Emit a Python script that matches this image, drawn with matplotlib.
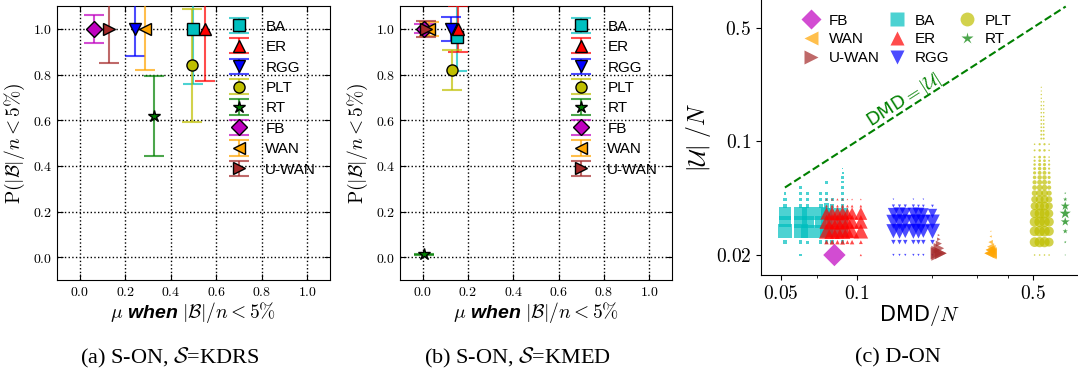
import matplotlib
matplotlib.use("Agg")
import matplotlib.pyplot as plt
from matplotlib.lines import Line2D
from matplotlib.ticker import FixedLocator, FixedFormatter, FuncFormatter, NullFormatter

plt.rcParams['mathtext.fontset'] = 'cm'
plt.rcParams['font.family'] = ['Liberation Sans', 'DejaVu Sans']

# ---- data for the S-ON panels (a) and (b) ----
names = ['BA', 'ER', 'RGG', 'PLT', 'RT', 'FB', 'WAN', 'U-WAN']
colors = ['c', 'r', 'b', 'y', 'g', 'm', 'orange', 'brown']
markers = ['s', '^', 'v', 'o', '*', 'D', '<', '>']

kdrs_mu = [0.497, 0.550, 0.243, 0.495, 0.326, 0.063, 0.289, 0.129]
kdrs_p = [1.0, 1.0, 1.0, 0.84, 0.62, 1.0, 1.0, 1.0]
kdrs_err = [0.243, 0.23, 0.12, 0.248, 0.175, 0.06, 0.18, 0.148]

kmed_mu = [0.151, 0.158, 0.126, 0.129, 0.007, 0.005, 0.03, 0.015]
kmed_p = [0.966, 1.0, 1.0, 0.82, 0.012, 1.0, 1.0, 1.0]
kmed_err = [0.15, 0.10, 0.053, 0.088, 0.003, 0.02, 0.03, 0.035]

# ---- data for the D-ON panel (c): x columns, y rows, marker size table ----
ba_x = [0.052, 0.060, 0.064, 0.072, 0.076, 0.080, 0.088]
ba_y = [0.020, 0.024, 0.028, 0.032, 0.036, 0.040, 0.044, 0.048, 0.052, 0.056, 0.060, 0.064, 0.068]
ba_s = [[0, 3, 0, 0, 0, 0, 0],
        [5, 5, 4, 5, 6, 5, 5],
        [80, 80, 70, 70, 60, 45, 45],
        [50, 60, 55, 55, 55, 50, 50],
        [65, 65, 60, 60, 50, 45, 45],
        [6, 5, 5, 6, 14, 8, 6],
        [4, 4, 4, 4, 5, 4, 4],
        [3, 3, 3, 3, 3, 0, 3],
        [0, 3, 0, 0, 0, 0, 2],
        [0, 0, 0, 0, 3, 0, 2],
        [0, 0, 0, 0, 0, 0, 2],
        [0, 0, 0, 0, 0, 0, 1.5],
        [0, 0, 0, 0, 0, 0, 1]]

er_x = [0.076, 0.080, 0.084, 0.088, 0.092, 0.096, 0.104]
er_y = [0.020, 0.024, 0.028, 0.032, 0.036, 0.040, 0.044]
er_s = [[0, 0, 0, 0, 0, 0, 2],
        [8, 10, 8, 10, 6, 8, 6],
        [90, 95, 85, 95, 70, 80, 85],
        [80, 95, 85, 95, 70, 80, 75],
        [60, 75, 65, 75, 50, 60, 65],
        [3, 4, 3, 4, 3, 3, 3],
        [2, 2, 2, 2, 1, 1, 1]]

rgg_x = [0.140, 0.148, 0.156, 0.168, 0.176, 0.184, 0.200]
rgg_y = [0.020, 0.024, 0.028, 0.032, 0.036, 0.040, 0.044]
rgg_s = [[2, 2, 2, 2, 2, 2, 2],
         [8, 8, 8, 8, 8, 8, 8],
         [80, 90, 75, 90, 85, 70, 90],
         [80, 90, 75, 85, 85, 75, 85],
         [50, 60, 50, 55, 55, 45, 35],
         [4, 4, 4, 4, 3, 3, 3],
         [1, 0, 0, 1, 0, 1, 0]]

plt_x = [0.508, 0.532, 0.556, 0.580]
plt_y = [0.020, 0.024, 0.028, 0.032, 0.036, 0.040, 0.044, 0.048, 0.052,
         0.056, 0.060, 0.064, 0.068, 0.072, 0.076, 0.080, 0.088, 0.096]
plt_s = [[1, 1, 1, 1],
         [38, 42, 42, 32],
         [38, 45, 45, 35],
         [38, 45, 45, 35],
         [32, 40, 40, 28],
         [25, 32, 32, 22],
         [18, 25, 25, 16],
         [13, 18, 18, 11],
         [9, 13, 13, 7],
         [7, 10, 10, 5],
         [5, 8, 8, 4],
         [4, 6, 6, 3],
         [3, 5, 5, 2],
         [2.5, 4, 4, 2],
         [2, 3, 3, 1.5],
         [1.5, 3, 2.5, 1],
         [1.5, 2.5, 2.5, 1],
         [1, 2, 2, 1]]
plt_top_x = [0.540, 0.552]
plt_top_y = [0.104, 0.110, 0.116, 0.122, 0.128, 0.135, 0.142, 0.150,
             0.158, 0.166, 0.175, 0.184, 0.194, 0.204, 0.215]
plt_top_s = [[1.5, 1.5], [1.5, 1.5], [1.5, 1.2], [1.2, 1.2], [1.2, 1.2],
             [1.2, 1], [1, 1], [1, 1], [1, 0.8], [1, 0.8], [0.8, 0.8],
             [0.8, 0], [0.8, 0], [0.6, 0], [0.6, 0]]

rt_x = [0.672]
rt_y = [0.020, 0.024, 0.028, 0.032, 0.036, 0.040, 0.044, 0.048]
rt_s = [[1], [3], [12], [35], [55], [35], [8], [2]]

fb_x = [0.0817]
fb_y = [0.020]
fb_s = [[100]]

wan_x = [0.336, 0.340, 0.344]
wan_y = [0.0205, 0.0215, 0.0225, 0.024, 0.026, 0.028]
wan_s = [[40, 60, 40], [20, 40, 15], [0, 20, 0], [0, 8, 0], [0, 2, 0], [0, 0.8, 0]]

uwan_x = [0.208, 0.212, 0.216]
uwan_y = [0.0205, 0.022, 0.0235, 0.025, 0.0265]
uwan_s = [[60, 90, 55], [0, 45, 0], [0, 15, 0], [0, 5, 0], [0, 2, 0]]

line_x = [0.052, 0.675]
line_y = [0.052, 0.675]

W, H = 1078, 374
size_scale = 1.3
fig = plt.figure(figsize=(W / 100, H / 100), dpi=100)


def son_panel(rect, mu, p, err, caption, cap_x):
    ax = fig.add_axes(rect)
    for i, name in enumerate(names):
        ecol = matplotlib.colors.to_rgba(colors[i], 0.7)
        ax.errorbar([mu[i]], [p[i]], yerr=[err[i]], fmt=markers[i], color=colors[i],
                    mec='k', ms=8 if markers[i] != '*' else 9, capsize=7, capthick=1.5,
                    elinewidth=1.5, ecolor=ecol, label=name, zorder=3)
    ax.set_xlim(-0.1, 1.1)
    ax.set_ylim(-0.1, 1.1)
    ticks = [0.0, 0.2, 0.4, 0.6, 0.8, 1.0]
    ax.set_xticks(ticks)
    ax.set_yticks(ticks)
    fmt = FuncFormatter(lambda v, pos: r'$%.1f$' % v)
    ax.xaxis.set_major_formatter(fmt)
    ax.yaxis.set_major_formatter(fmt)
    ax.tick_params(direction='in', top=True, right=True, labelsize=10, length=4)
    ax.grid(True, color='k', linestyle=':', linewidth=1)
    ax.set_axisbelow(True)
    ax.set_ylabel(r'$\mathrm{P}(|\mathcal{B}|/n<5\%)$', fontsize=14, labelpad=4)
    ax.set_xlabel(r'$\mu$ when $|\mathcal{B}|/n<5\%$', fontsize=14,
                  fontstyle='italic', fontweight='bold', labelpad=1)
    ax.legend(loc='upper right', bbox_to_anchor=(1.0, 1.0), frameon=False,
              numpoints=1, fontsize=11, labelspacing=0.42, handlelength=1.6,
              handletextpad=0.9)
    fig.text(cap_x / W, 1 - 358 / H, caption, ha='center', va='center',
             fontsize=16, family='Liberation Serif')
    return ax


son_panel([57 / W, 94 / H, 273 / W, 274 / H], kdrs_mu, kdrs_p, kdrs_err,
          r'(a) S-ON, $\mathcal{S}$=KDRS', 170)
son_panel([400 / W, 94 / H, 272 / W, 274 / H], kmed_mu, kmed_p, kmed_err,
          r'(b) S-ON, $\mathcal{S}$=KMED', 518)

# ---- panel (c) ----
axc = fig.add_axes([761 / W, 99 / H, 317 / W, 275 / H])
axc.set_xscale('log')
axc.set_yscale('log')


def table_points(xs, ys, sizes):
    px, py, ps = [], [], []
    for yv, row in zip(ys, sizes):
        for xv, s in zip(xs, row):
            if s > 0:
                px.append(xv)
                py.append(yv)
                ps.append(s * size_scale)
    return px, py, ps


don = [
    ('BA', ba_x, ba_y, ba_s, 's', 'c'),
    ('ER', er_x, er_y, er_s, '^', 'r'),
    ('RGG', rgg_x, rgg_y, rgg_s, 'v', 'b'),
    ('PLT', plt_x, plt_y, plt_s, 'o', 'y'),
    ('PLT', plt_top_x, plt_top_y, plt_top_s, 'o', 'y'),
    ('RT', rt_x, rt_y, rt_s, '*', 'g'),
    ('FB', fb_x, fb_y, fb_s, 'D', 'm'),
    ('WAN', wan_x, wan_y, wan_s, '<', 'orange'),
    ('U-WAN', uwan_x, uwan_y, uwan_s, '>', 'brown'),
]
for name, xs, ys, ss, mk, col in don:
    px, py, ps = table_points(xs, ys, ss)
    axc.scatter(px, py, s=ps, marker=mk, c=col, alpha=0.7, edgecolors='none')

axc.plot(line_x, line_y, '--', color='green', lw=1.5)
axc.text(0.154, 0.179, r'DMD$=|\mathcal{U}|$', color='green', fontsize=13,
         family='DejaVu Sans', rotation=32.5, ha='center', va='center',
         rotation_mode='anchor')

axc.set_xlim(0.0418, 0.755)
axc.set_ylim(0.01507, 0.74)
axc.xaxis.set_major_locator(FixedLocator([0.05, 0.1, 0.5]))
axc.xaxis.set_major_formatter(FixedFormatter([r'$0.05$', r'$0.1$', r'$0.5$']))
axc.xaxis.set_minor_locator(FixedLocator([0.07, 0.2, 0.3, 0.4]))
axc.xaxis.set_minor_formatter(NullFormatter())
axc.yaxis.set_major_locator(FixedLocator([0.02, 0.1, 0.5]))
axc.yaxis.set_major_formatter(FixedFormatter([r'$0.02$', r'$0.1$', r'$0.5$']))
axc.yaxis.set_minor_locator(FixedLocator([]))
axc.tick_params(labelsize=14)
axc.spines['top'].set_visible(False)
axc.spines['right'].set_visible(False)
axc.set_xlabel(r'DMD$/N$', fontsize=15, family='DejaVu Sans', labelpad=0)
axc.set_ylabel(r'$|\mathcal{U}|\ /N$', fontsize=17, labelpad=2)

handles = [Line2D([], [], ls='none', marker=mk, color=col, alpha=0.7, mec='none', ms=ms)
           for mk, col, ms in [('D', 'm', 10), ('<', 'orange', 10), ('>', 'brown', 10),
                               ('s', 'c', 10), ('^', 'r', 10), ('v', 'b', 10),
                               ('o', 'y', 10), ('*', 'g', 9)]]
labels = ['FB', 'WAN', 'U-WAN', 'BA', 'ER', 'RGG', 'PLT', 'RT']
axc.legend(handles, labels, ncol=3, loc='upper left', bbox_to_anchor=(0.085, 1.0),
           frameon=False, fontsize=11, labelspacing=0.3, handlelength=1.2,
           handletextpad=0.6, columnspacing=0.5)
fig.text(898 / W, 1 - 358 / H, '(c) D-ON', ha='center', va='center',
         fontsize=16, family='Liberation Serif')

fig.savefig('out.png', dpi=100)
